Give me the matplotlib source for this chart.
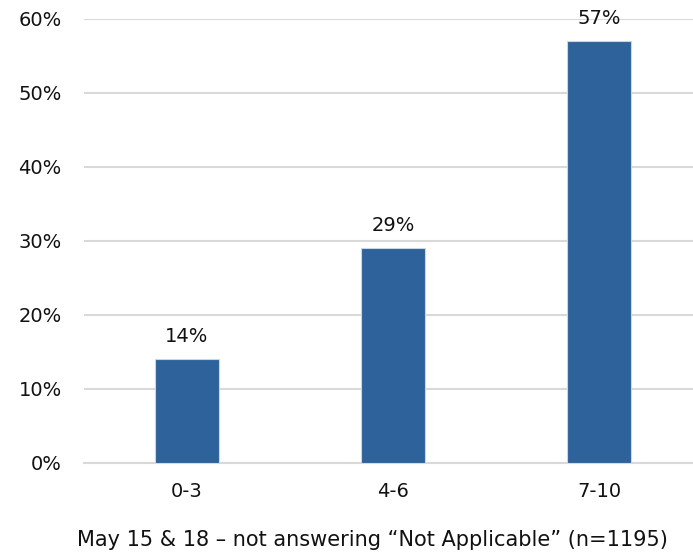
import matplotlib.pyplot as plt
from matplotlib.ticker import PercentFormatter

# score bands and share of respondents (%)
categories = ['0-3', '4-6', '7-10']
shares = [14, 29, 57]
caption = 'May 15 & 18 \u2013 not answering \u201cNot Applicable\u201d (n=1195)'

plt.rcParams['font.family'] = ['DejaVu Sans']

fig = plt.figure(figsize=(6.93, 5.58), dpi=100)
ax = fig.add_axes([84 / 693, 95 / 558, 609 / 693, 444 / 558])

x = range(len(categories))
bars = ax.bar(x, shares, width=0.31, color='#2e629a',
              edgecolor='#c9d6e6', linewidth=0.8, zorder=3)

for b, v in zip(bars, shares):
    ax.annotate(f'{v}%', (b.get_x() + b.get_width() / 2, v),
                xytext=(0, 18), textcoords='offset points',
                ha='center', va='center_baseline', fontsize=14, color='#111111')

ax.set_xlim(-0.5, 2.456)
ax.set_ylim(0, 60)
ax.set_yticks(range(0, 61, 10))
ax.yaxis.set_major_formatter(PercentFormatter(decimals=0))
ax.set_xticks(list(x))
ax.set_xticklabels(categories)

ax.grid(axis='y', color='#d9d9d9', linewidth=1.5, zorder=0)
for s in ['top', 'right', 'left']:
    ax.spines[s].set_visible(False)
ax.spines['bottom'].set_color('#d9d9d9')
ax.spines['bottom'].set_linewidth(1.5)
ax.tick_params(axis='both', length=0, labelsize=14, colors='#111111')
ax.tick_params(axis='y', pad=16)
ax.tick_params(axis='x', pad=14)

fig.text(372 / 693, 1 - 540 / 558, caption, ha='center', va='center',
         fontsize=15, color='#111111')

fig.savefig('out.png', dpi=100)
